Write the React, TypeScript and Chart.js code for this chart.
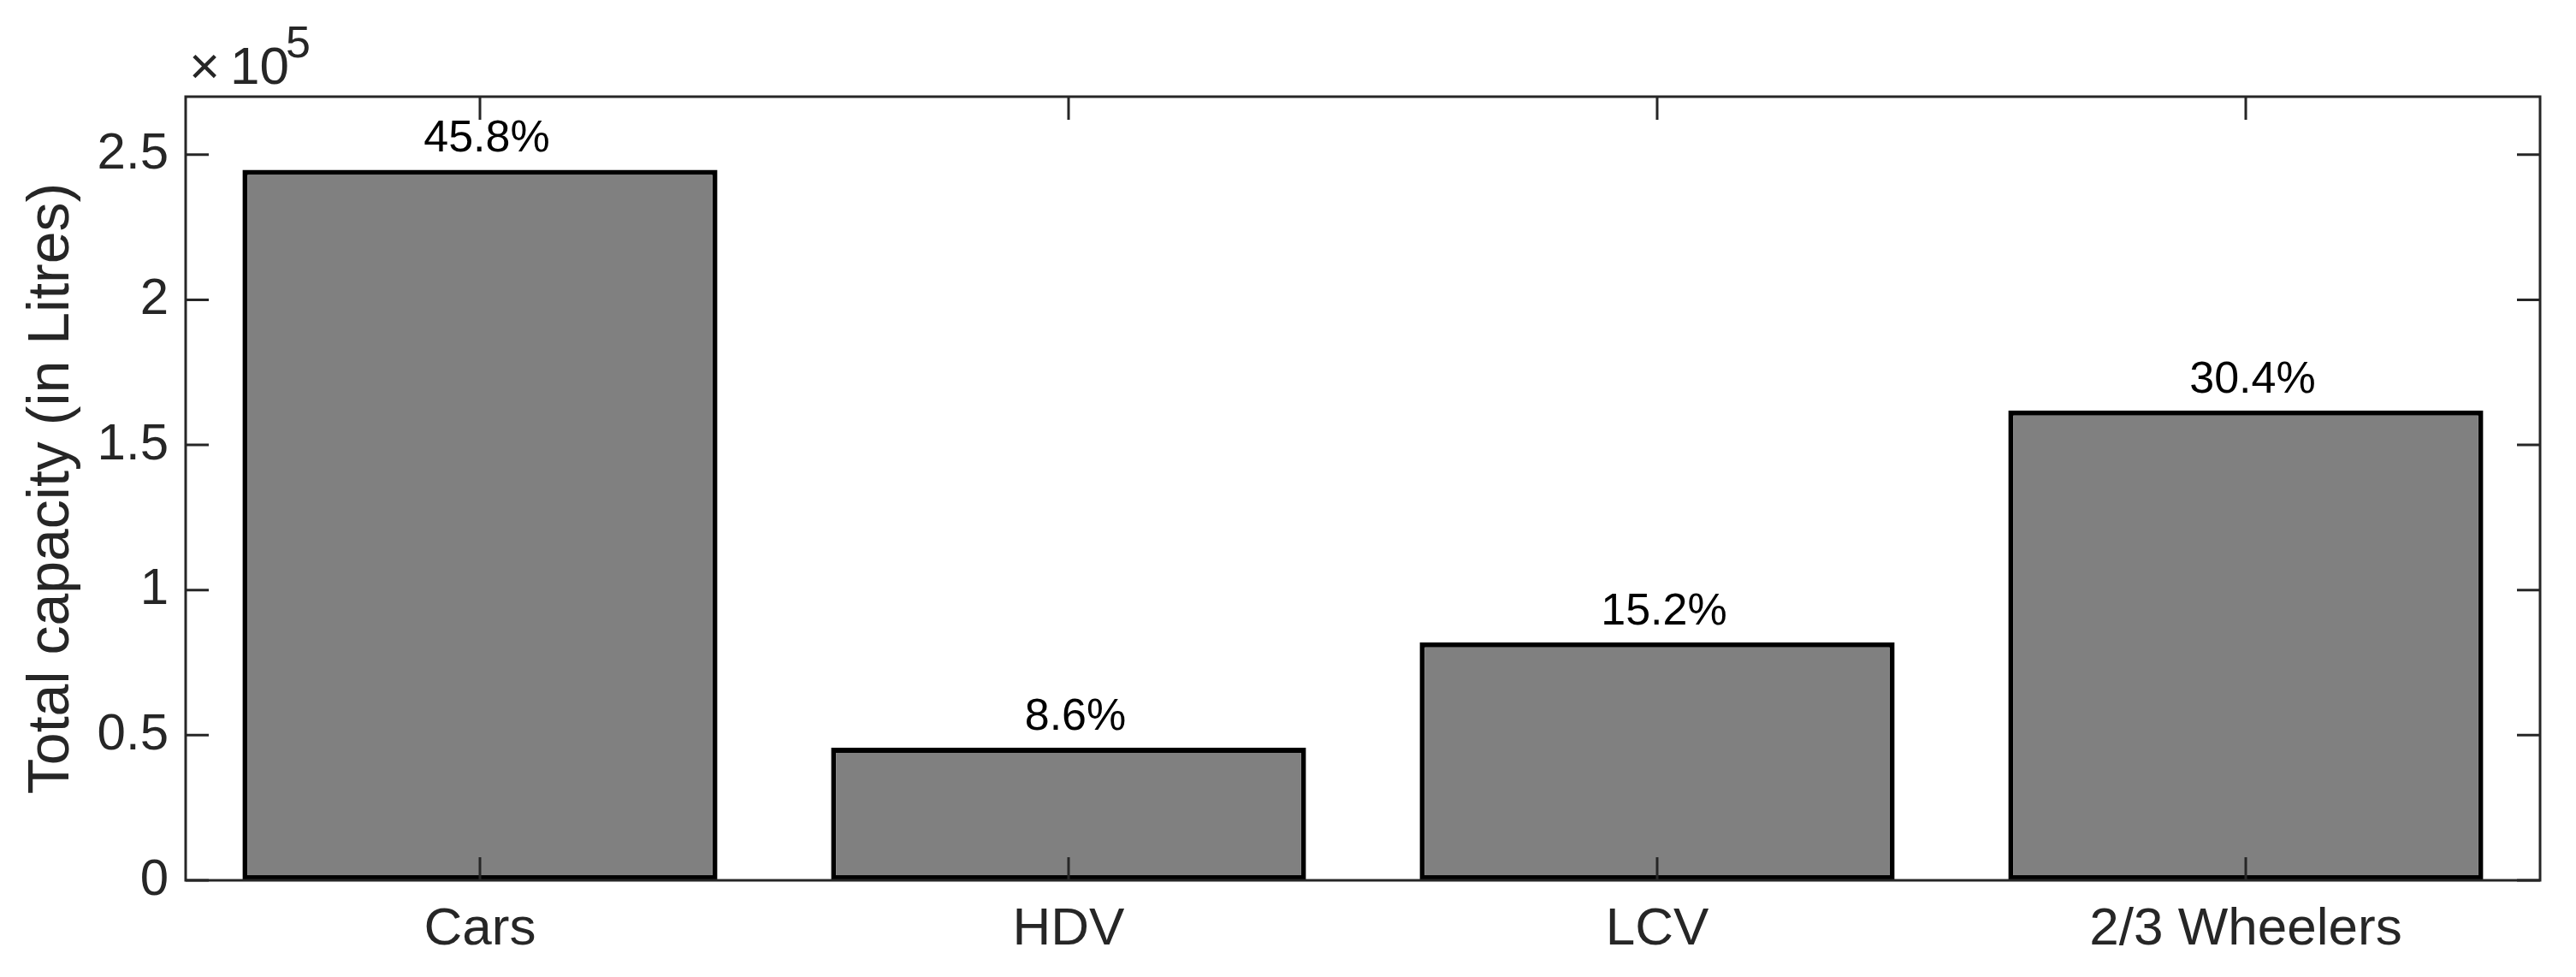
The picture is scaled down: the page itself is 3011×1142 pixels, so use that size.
import React, { useEffect, useRef } from "react";
import { Chart, registerables } from "chart.js";

Chart.register(...registerables);

// ---- data ----
const categories = ["Cars", "HDV", "LCV", "2/3 Wheelers"];
const capacityLitres = [244800, 45700, 82000, 161900];
const shareLabels = ["45.8%", "8.6%", "15.2%", "30.4%"];
const yTickValues = [0, 50000, 100000, 150000, 200000, 250000];
const yMin = 0;
const yMax = 270000;
const yScaleFactor = 1e5;
const multiplierText = "×10";
const exponentText = "5";
const yAxisTitle = "Total capacity (in Litres)";

// ---- styles ----
const FONT = "'Liberation Sans', Arial, Helvetica, sans-serif";
const AXIS_COLOR = "#262626";
const BAR_FILL = "#808080";
const BAR_EDGE = "#000000";

const framePlugin = {
  id: "matlabFrame",
  afterDatasetsDraw(chart: any) {
    const { ctx, chartArea, scales } = chart;
    const { left, right, top, bottom } = chartArea;
    const x = scales.x;
    const y = scales.y;
    ctx.save();
    // box
    ctx.strokeStyle = AXIS_COLOR;
    ctx.lineWidth = 3;
    ctx.strokeRect(left, top, right - left, bottom - top);
    // inward ticks
    const tl = 27;
    ctx.beginPath();
    y.ticks.forEach((t: any) => {
      const py = y.getPixelForValue(t.value);
      ctx.moveTo(left, py);
      ctx.lineTo(left + tl, py);
      ctx.moveTo(right, py);
      ctx.lineTo(right - tl, py);
    });
    x.ticks.forEach((_t: any, i: number) => {
      const px = x.getPixelForTick(i);
      ctx.moveTo(px, bottom);
      ctx.lineTo(px, bottom - tl);
      ctx.moveTo(px, top);
      ctx.lineTo(px, top + tl);
    });
    ctx.stroke();

    // bar value labels
    const meta = chart.getDatasetMeta(0);
    ctx.fillStyle = "#000000";
    ctx.font = `52px ${FONT}`;
    ctx.textAlign = "center";
    ctx.textBaseline = "alphabetic";
    meta.data.forEach((bar: any, i: number) => {
      ctx.fillText(shareLabels[i], bar.x + 8, bar.y - 21);
    });

    // exponent label  ×10^5
    ctx.fillStyle = AXIS_COLOR;
    ctx.textAlign = "left";
    ctx.font = `62px ${FONT}`;
    ctx.fillText("×", left + 4, top - 15);
    ctx.fillText(multiplierText.slice(1), left + 52, top - 15);
    ctx.font = `52px ${FONT}`;
    ctx.fillText(exponentText, left + 117, top - 46);
    ctx.restore();
  },
};

export default function App() {
  const canvasRef = useRef<HTMLCanvasElement | null>(null);

  useEffect(() => {
    const canvas = canvasRef.current;
    if (!canvas) return;
    const chart = new Chart(canvas, {
      type: "bar",
      data: {
        labels: categories,
        datasets: [
          {
            data: capacityLitres,
            backgroundColor: BAR_FILL,
            borderColor: BAR_EDGE,
            borderWidth: 6,
            borderSkipped: false,
            barPercentage: 0.807,
            categoryPercentage: 1.0,
          },
        ],
      },
      plugins: [framePlugin],
      options: {
        responsive: false,
        animation: false,
        devicePixelRatio: 1,
        layout: { padding: { left: 0, top: 113, right: 42, bottom: 0 } },
        plugins: {
          legend: { display: false },
          tooltip: { enabled: false },
          title: { display: false },
        },
        scales: {
          x: {
            offset: true,
            grid: { display: false, drawTicks: false },
            border: { display: false },
            ticks: {
              color: AXIS_COLOR,
              font: { family: FONT, size: 62 },
              padding: 21,
              maxRotation: 0,
              autoSkip: false,
            },
            afterFit: (scale: any) => {
              scale.height = 113;
            },
          },
          y: {
            min: yMin,
            max: yMax,
            grid: { display: false, drawTicks: false },
            border: { display: false },
            afterBuildTicks: (scale: any) => {
              scale.ticks = yTickValues.map((v) => ({ value: v }));
            },
            ticks: {
              color: AXIS_COLOR,
              font: { family: FONT, size: 60 },
              padding: 20,
              callback: (v: any) => String(Number(v) / yScaleFactor),
            },
            title: {
              display: true,
              text: yAxisTitle,
              color: AXIS_COLOR,
              font: { family: FONT, size: 68 },
              padding: { top: 20, bottom: 0 },
            },
            afterFit: (scale: any) => {
              scale.width = 217;
            },
          },
        },
      },
    });
    return () => chart.destroy();
  }, []);

  return (
    <div
      style={{
        position: "absolute",
        left: 0,
        top: 0,
        width: 3011,
        height: 1142,
        background: "#ffffff",
      }}
    >
      <canvas ref={canvasRef} width={3011} height={1142} />
    </div>
  );
}
